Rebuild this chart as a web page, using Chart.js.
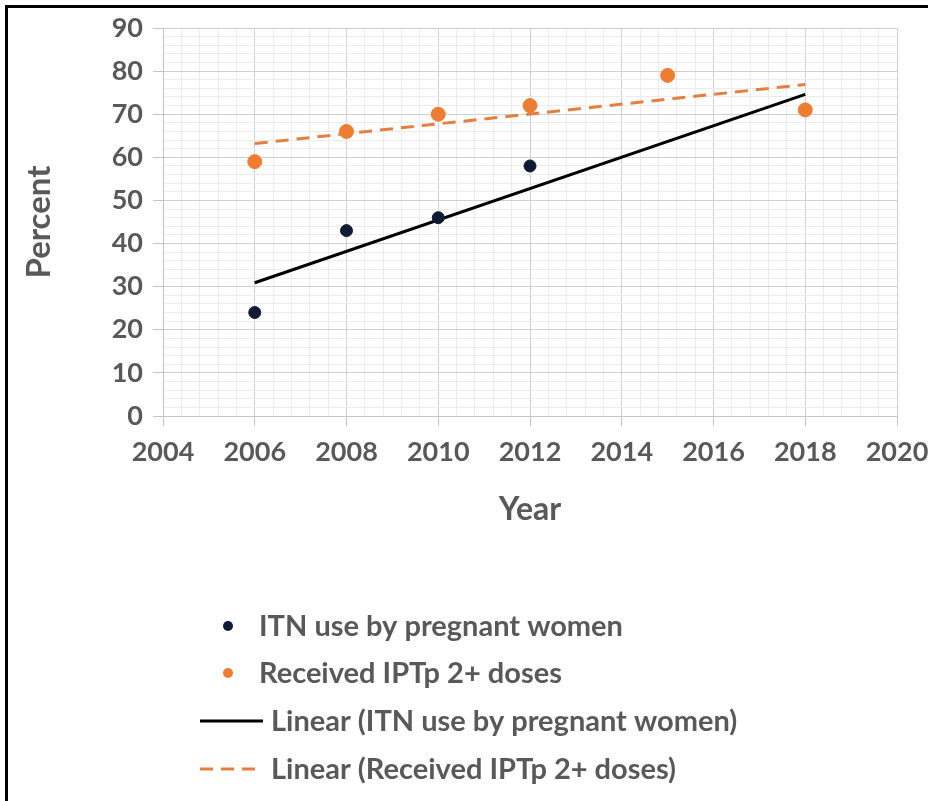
<!DOCTYPE html>
<html>
<head>
<meta charset="utf-8">
<script src="https://cdn.jsdelivr.net/npm/chart.js@4/dist/chart.umd.min.js"></script>
<style>
  html, body { margin: 0; padding: 0; background: #ffffff; }
  #wrap { position: relative; width: 928px; height: 801px; overflow: hidden; }
  #frame { position: absolute; left: 5px; top: 5px; right: -10px; bottom: -10px;
           border-top: 3px solid #000; border-left: 3px solid #000; pointer-events: none; }
  canvas { display: block; }
</style>
</head>
<body>
<div id="wrap">
  <canvas id="chart" width="928" height="801"></canvas>
  <div id="frame"></div>
</div>
<script>
// Survey results, percent of pregnant women
const itnYears = [2006, 2008, 2010, 2012, 2018];
const itnValues = [24, 43, 46, 58, 71];
const iptpYears = [2006, 2008, 2010, 2012, 2015, 2018];
const iptpValues = [59, 66, 70, 72, 79, 71];

// Linear trend lines (end points)
const trendYears = [2006, 2018];
const itnTrendValues = [30.9, 74.6];
const iptpTrendValues = [63.2, 76.9];

// Axis ranges
const xMin = 2004, xMax = 2020, xMajorStep = 2, xMinorStep = 0.4;
const yMin = 0, yMax = 90, yMajorStep = 10, yMinorStep = 2;

const seriesLabels = [
  'ITN use by pregnant women',
  'Received IPTp 2+ doses',
  'Linear (ITN use by pregnant women)',
  'Linear (Received IPTp 2+ doses)'
];

const TEXT = '#595959';
const ORANGE = '#ED7D31';
const NAVY = '#0E1B33';
const FONT = 'Lato, "Open Sans", "DejaVu Sans", sans-serif';

const toPoints = (xs, ys) => xs.map((x, i) => ({ x: x, y: ys[i] }));

function buildTicks(min, max, minor, major) {
  const out = [];
  const n = Math.round((max - min) / minor);
  for (let i = 0; i <= n; i++) {
    const v = Math.round((min + i * minor) * 10) / 10;
    const r = Math.round(v * 10) % Math.round(major * 10) === 0;
    out.push({ value: v, isMajor: r });
  }
  return out;
}

const gridColor = ctx => (ctx.tick && ctx.tick.isMajor) ? '#d0d0d0' : '#ececec';
const tickMarkColor = ctx => (ctx.tick && ctx.tick.isMajor) ? '#c4c4c4' : 'rgba(0,0,0,0)';
const tickLabel = (value, index, ticks) => ticks[index] && ticks[index].isMajor ? String(value) : '';

// Legend laid out as a left-aligned list under the plot
const listLegend = {
  id: 'listLegend',
  afterDraw(chart) {
    const ctx = chart.ctx;
    const ds = chart.data.datasets;
    const rows = [626, 673, 721, 769];
    ctx.save();
    ctx.font = 'bold 29px ' + FONT;
    ctx.fillStyle = TEXT;
    ctx.textBaseline = 'middle';
    ds.forEach((d, i) => {
      const y = rows[i];
      let textX;
      if (d.showLine) {
        ctx.beginPath();
        ctx.strokeStyle = d.borderColor;
        ctx.lineWidth = 3;
        ctx.setLineDash(d.borderDash || []);
        ctx.moveTo(200, y);
        ctx.lineTo(263, y);
        ctx.stroke();
        ctx.setLineDash([]);
        textX = 271;
      } else {
        ctx.beginPath();
        ctx.fillStyle = d.backgroundColor;
        ctx.arc(228, y, 5, 0, Math.PI * 2);
        ctx.fill();
        textX = 259;
      }
      ctx.fillStyle = TEXT;
      ctx.fillText(d.label, textX, y + 1);
    });
    ctx.restore();
  }
};

new Chart(document.getElementById('chart'), {
  type: 'scatter',
  data: {
    datasets: [
      {
        label: seriesLabels[0],
        data: toPoints(itnYears, itnValues),
        backgroundColor: NAVY, borderColor: NAVY,
        pointRadius: 6, pointHoverRadius: 6, showLine: false, order: 1
      },
      {
        label: seriesLabels[1],
        data: toPoints(iptpYears, iptpValues),
        backgroundColor: ORANGE, borderColor: ORANGE,
        pointRadius: 7, pointHoverRadius: 7, showLine: false, order: 0
      },
      {
        label: seriesLabels[2],
        data: toPoints(trendYears, itnTrendValues),
        borderColor: '#000000', backgroundColor: '#000000',
        borderWidth: 3, pointRadius: 0, showLine: true, order: 2
      },
      {
        label: seriesLabels[3],
        data: toPoints(trendYears, iptpTrendValues),
        borderColor: '#E3803F', backgroundColor: '#E3803F',
        borderWidth: 3, borderDash: [13, 8], pointRadius: 0, showLine: true, order: 3
      }
    ]
  },
  options: {
    responsive: false,
    animation: false,
    layout: { padding: { left: 0, top: 28, right: 31, bottom: 250 } },
    plugins: { legend: { display: false }, tooltip: { enabled: false } },
    scales: {
      x: {
        type: 'linear', min: xMin, max: xMax,
        afterBuildTicks: s => { s.ticks = buildTicks(xMin, xMax, xMinorStep, xMajorStep); },
        afterFit: s => { s.height = 135; s.paddingLeft = 0; s.paddingRight = 0; },
        grid: { color: gridColor, tickColor: tickMarkColor, tickLength: 10, lineWidth: 1 },
        border: { color: '#c4c4c4', width: 1 },
        ticks: { autoSkip: false, maxRotation: 0, padding: 10, color: TEXT,
                 font: { family: FONT, size: 27, weight: 'bold' }, callback: tickLabel },
        title: { display: true, text: 'Year', color: TEXT,
                 font: { family: FONT, size: 32, weight: 'bold' }, padding: { top: 0, bottom: 22 } }
      },
      y: {
        type: 'linear', min: yMin, max: yMax,
        afterBuildTicks: s => { s.ticks = buildTicks(yMin, yMax, yMinorStep, yMajorStep); },
        afterFit: s => { s.width = 163; s.paddingTop = 0; s.paddingBottom = 0; },
        grid: { color: gridColor, tickColor: tickMarkColor, tickLength: 10, lineWidth: 1 },
        border: { color: '#c4c4c4', width: 1 },
        ticks: { autoSkip: false, padding: 10, color: TEXT,
                 font: { family: FONT, size: 27, weight: 'bold' }, callback: tickLabel },
        title: { display: true, text: 'Percent', color: TEXT,
                 font: { family: FONT, size: 33, weight: 'bold' }, padding: { top: 20, bottom: 0 } }
      }
    }
  },
  plugins: [listLegend]
});
</script>
</body>
</html>
